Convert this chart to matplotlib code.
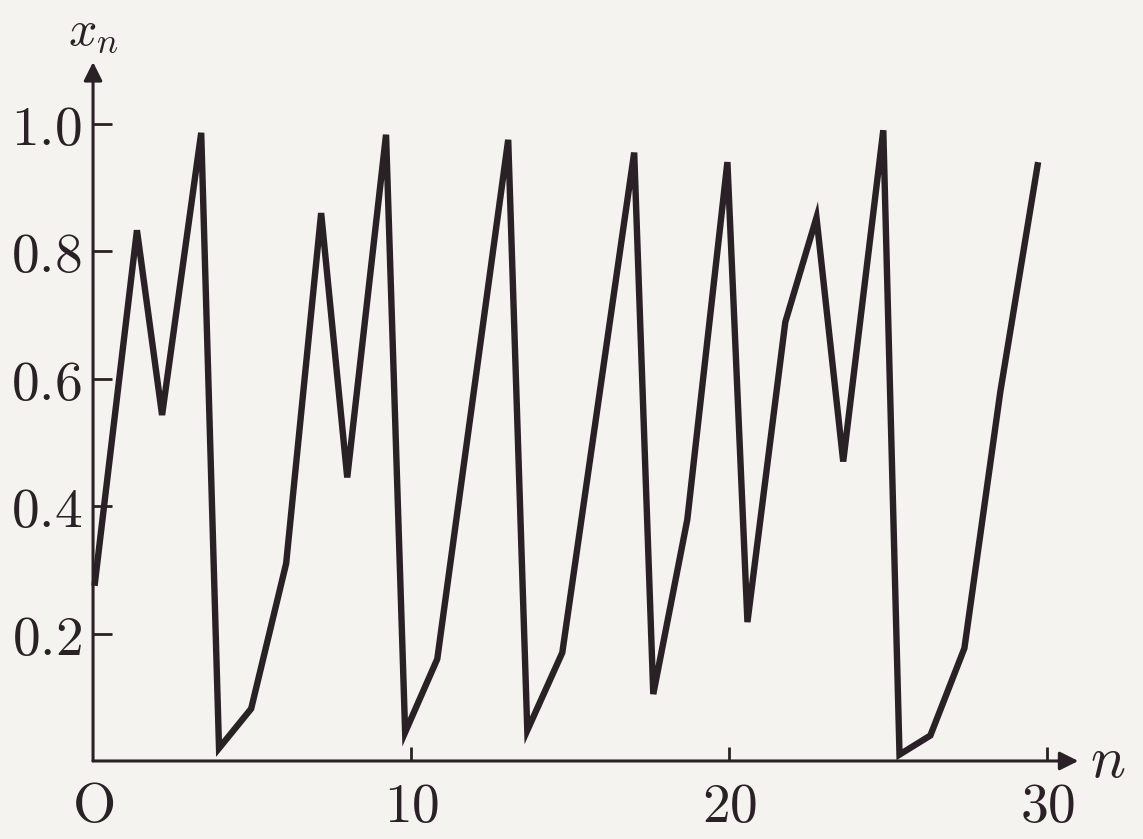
"""
Logistic map iterates x_n against n (textbook scan style)
"""

import matplotlib
matplotlib.use('Agg')
import matplotlib.pyplot as plt

# Vertices (n position, x_n value)
n_pos = [0.06, 1.38, 2.17, 3.40, 3.96, 4.97, 6.07, 7.17, 7.99, 9.21,
         9.81, 10.82, 13.05, 13.65, 14.75, 17.01, 17.61, 18.68, 19.94, 20.57,
         21.76, 22.74, 23.58, 24.84, 25.35, 26.32, 27.39, 28.52, 29.69]
x_vals = [0.28, 0.833, 0.543, 0.986, 0.02, 0.082, 0.31, 0.86, 0.445, 0.983,
          0.045, 0.16, 0.975, 0.048, 0.17, 0.955, 0.105, 0.379, 0.94, 0.218,
          0.689, 0.853, 0.47, 0.99, 0.01, 0.04, 0.177, 0.58, 0.935]

x_ticks = [0, 10, 20, 30]
x_ticklabels = [r'$\mathrm{O}$', r'$10$', r'$20$', r'$30$']
y_ticks = [0.2, 0.4, 0.6, 0.8, 1.0]
y_ticklabels = [r'$0.2$', r'$0.4$', r'$0.6$', r'$0.8$', r'$1.0$']

ink = '#2a2126'
paper = '#f4f3ef'

plt.rcParams['mathtext.fontset'] = 'cm'

fig = plt.figure(figsize=(11.43, 8.39), dpi=100, facecolor=paper)
ax = fig.add_axes([0.0814, 0.093, 0.862, 0.833])
ax.set_facecolor(paper)

# Data line
ax.plot(n_pos, x_vals, color=ink, lw=4.6, solid_joinstyle='miter', clip_on=False, zorder=3)

ax.set_xlim(0, 30.97)
ax.set_ylim(0, 1.097)

# Axes as arrows
for s in ax.spines.values():
    s.set_visible(False)
ax.annotate('', xy=(1, 0), xycoords='axes fraction', xytext=(0, 0),
            arrowprops=dict(arrowstyle='-|>', lw=2.2, color=ink, mutation_scale=28,
                            shrinkA=0, shrinkB=0))
ax.annotate('', xy=(0, 1), xycoords='axes fraction', xytext=(0, 0),
            arrowprops=dict(arrowstyle='-|>', lw=2.2, color=ink, mutation_scale=28,
                            shrinkA=0, shrinkB=0))

# Ticks
ax.set_xticks(x_ticks)
ax.set_xticklabels(x_ticklabels)
ax.set_yticks(y_ticks)
ax.set_yticklabels(y_ticklabels)
ax.tick_params(axis='both', direction='in', color=ink, width=2, labelcolor=ink,
               labelsize=40)
ax.tick_params(axis='x', length=10, pad=14)
ax.tick_params(axis='y', length=14, pad=8)
ax.xaxis.get_major_ticks()[0].tick1line.set_visible(False)

# Axis labels
ax.text(1.012, 0.0, r'$n$', transform=ax.transAxes, fontsize=42, color=ink,
        ha='left', va='center')
ax.text(0.0, 1.045, r'$x_n$', transform=ax.transAxes, fontsize=36, color=ink,
        ha='center', va='center')

fig.savefig('out.png', dpi=100, facecolor=paper)
